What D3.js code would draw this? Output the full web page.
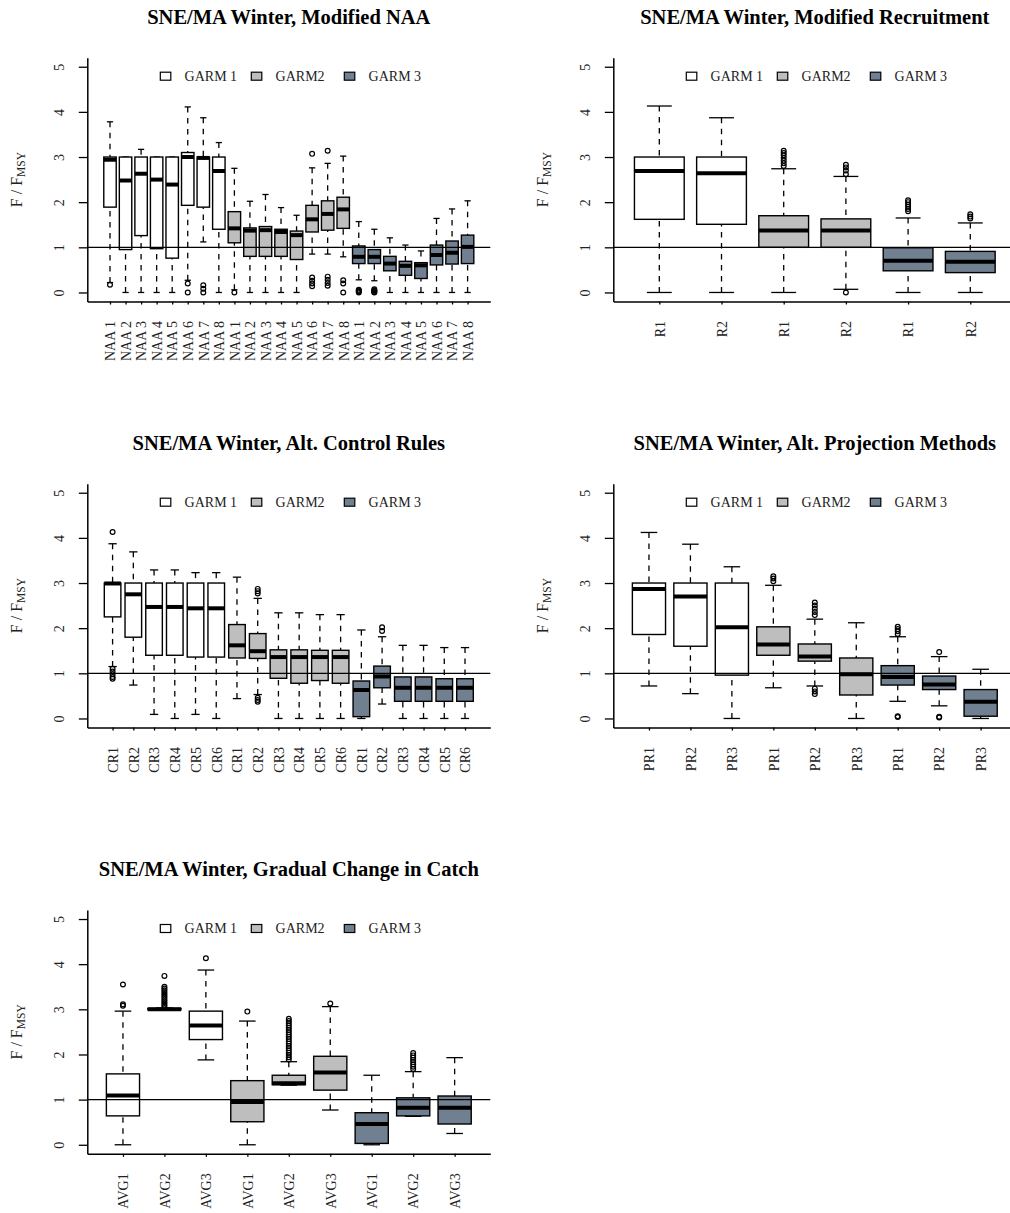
<!DOCTYPE html>
<html>
<head>
<meta charset="utf-8">
<script src="https://cdn.jsdelivr.net/npm/d3@7"></script>
<style>
body { margin: 0; background: #fff; }
text { font-family: "Liberation Serif", "Times New Roman", serif; }
</style>
</head>
<body>
<div id="holder"></div>
<script>
// groups
const garmNames = ["GARM 1", "GARM2", "GARM 3"];
const garmFill = ["#ffffff", "#bebebe", "#708090"];
const yTicks = [0, 1, 2, 3, 4, 5];

// box stats are [lower whisker, Q1, median, Q3, upper whisker]
const naaLabels = ["NAA 1", "NAA 2", "NAA 3", "NAA 4", "NAA 5", "NAA 6", "NAA 7", "NAA 8"];
const naaStats = [
    [0.22, 1.89, 2.94, 3.0, 3.78], [0, 0.95, 2.48, 3.0, 3.0], [0, 1.26, 2.63, 3.0, 3.17], [0, 0.97, 2.50, 3.0, 3.0],
    [0, 0.76, 2.39, 3.0, 3.0], [0.27, 1.93, 3.0, 3.10, 4.11], [1.12, 1.89, 2.98, 3.0, 3.87], [0, 1.40, 2.69, 3.0, 3.32],
    [0.06, 1.10, 1.42, 1.79, 2.75], [0, 0.80, 1.37, 1.43, 2.02], [0, 0.80, 1.38, 1.46, 2.17], [0, 0.80, 1.34, 1.40, 1.88],
    [0, 0.73, 1.27, 1.36, 1.71], [0.85, 1.34, 1.62, 1.93, 2.76], [0.85, 1.38, 1.74, 2.03, 2.86], [0.79, 1.42, 1.84, 2.11, 3.02],
    [0.28, 0.64, 0.79, 1.03, 1.57], [0.26, 0.64, 0.79, 0.95, 1.40], [0, 0.48, 0.64, 0.80, 1.21], [0, 0.38, 0.59, 0.69, 1.05],
    [0, 0.31, 0.60, 0.66, 0.92], [0, 0.61, 0.83, 1.05, 1.64], [0, 0.63, 0.88, 1.14, 1.85], [0, 0.64, 1.01, 1.27, 2.03]
];
const naaOut = [
    [0.17], [], [], [], [], [0.2, 0.0], [0.16, 0.08, 0.0], [],
    [0.0], [], [], [], [], [3.07, 0.33, 0.26, 0.2, 0.14], [3.14, 0.35, 0.28, 0.21, 0.15], [0.27, 0.2, 0.0],
    [0.06, 0.04, 0.02, 0.0], [0.07, 0.05, 0.03, 0.01, 0.0], [], [], [], [], [], []
];

const recLabels = ["R1", "R2"];
const recStats = [
    [0, 1.62, 2.69, 3.0, 4.13], [0, 1.51, 2.64, 3.0, 3.87],
    [0, 1.0, 1.37, 1.70, 2.74], [0.07, 1.0, 1.37, 1.63, 2.57],
    [0, 0.48, 0.70, 0.99, 1.65], [0, 0.44, 0.68, 0.91, 1.54]
];
const recOut = [
    [], [],
    [3.14, 3.09, 3.04, 2.98, 2.92, 2.86, 2.80], [2.83, 2.77, 2.70, 2.62, 0.0],
    [2.04, 2.0, 1.95, 1.9, 1.85, 1.8], [1.73, 1.68, 1.64]
];

const crLabels = ["CR1", "CR2", "CR3", "CR4", "CR5", "CR6"];
const crStats = [
    [1.15, 2.25, 2.99, 3.0, 3.87], [0.74, 1.80, 2.75, 3.0, 3.69], [0.09, 1.40, 2.47, 3.0, 3.29],
    [0, 1.40, 2.47, 3.0, 3.29], [0.09, 1.36, 2.44, 3.0, 3.23], [0, 1.36, 2.44, 3.0, 3.23],
    [0.44, 1.34, 1.62, 2.08, 3.13], [0.53, 1.33, 1.49, 1.88, 2.66], [0, 0.89, 1.36, 1.52, 2.34],
    [0, 0.78, 1.36, 1.52, 2.34], [0, 0.84, 1.36, 1.51, 2.30], [0, 0.78, 1.36, 1.51, 2.30],
    [0, 0.04, 0.63, 0.83, 1.96], [0.32, 0.68, 0.93, 1.16, 1.81], [0, 0.38, 0.68, 0.92, 1.62],
    [0, 0.38, 0.68, 0.92, 1.62], [0, 0.38, 0.68, 0.88, 1.57], [0, 0.38, 0.68, 0.88, 1.57]
];
const crOut = [
    [4.13, 1.1, 1.04, 0.98, 0.92, 0.88], [], [], [], [], [],
    [], [2.87, 2.82, 2.77, 0.46, 0.41, 0.37], [], [], [], [],
    [], [2.02, 1.94], [], [], [], []
];

const prLabels = ["PR1", "PR2", "PR3"];
const prStats = [
    [0.72, 1.86, 2.87, 3.0, 4.12], [0.55, 1.60, 2.70, 3.0, 3.86], [0, 0.96, 2.02, 3.0, 3.36],
    [0.68, 1.40, 1.64, 2.03, 2.95], [0.72, 1.27, 1.37, 1.65, 2.20], [0, 0.52, 0.98, 1.34, 2.12],
    [0.38, 0.74, 0.92, 1.17, 1.81], [0.28, 0.64, 0.75, 0.94, 1.37], [0, 0.05, 0.37, 0.64, 1.09]
];
const prOut = [
    [], [], [],
    [3.15, 3.1, 3.04], [2.57, 2.5, 2.43, 2.36, 2.29, 0.66, 0.6, 0.54], [],
    [2.03, 1.98, 1.93, 1.87, 0.05, 0.03], [1.47, 0.04, 0.02], []
];

const avgLabels = ["AVG1", "AVG2", "AVG3"];
const avgStats = [
    [0, 0.64, 1.09, 1.57, 2.96], [2.98, 2.99, 3.0, 3.02, 3.03], [1.88, 2.33, 2.64, 2.96, 3.87],
    [0, 0.51, 0.95, 1.42, 2.74], [1.32, 1.33, 1.36, 1.54, 1.84], [0.77, 1.21, 1.60, 1.96, 3.06],
    [0, 0.03, 0.46, 0.71, 1.54], [0.63, 0.64, 0.82, 1.04, 1.62], [0.25, 0.46, 0.82, 1.08, 1.93]
];
const avgOut = [
    [3.55, 3.11, 3.08], [3.74, 3.5, 3.46, 3.42, 3.38, 3.34, 3.3, 3.26, 3.22, 3.18, 3.14, 3.1, 3.06], [4.13],
    [2.95], [2.79, 2.74, 2.69, 2.64, 2.59, 2.54, 2.49, 2.44, 2.39, 2.34, 2.29, 2.24, 2.19, 2.14, 2.09, 2.04, 1.99, 1.94, 1.89], [3.13],
    [], [2.03, 1.98, 1.93, 1.88, 1.83, 1.78, 1.73, 1.68], []
];

const panels = [
    {title: "SNE/MA Winter, Modified NAA", labels: naaLabels, stats: naaStats, out: naaOut, col: 0, row: 0},
    {title: "SNE/MA Winter, Modified Recruitment", labels: recLabels, stats: recStats, out: recOut, col: 1, row: 0},
    {title: "SNE/MA Winter, Alt. Control Rules", labels: crLabels, stats: crStats, out: crOut, col: 0, row: 1},
    {title: "SNE/MA Winter, Alt. Projection Methods", labels: prLabels, stats: prStats, out: prOut, col: 1, row: 1},
    {title: "SNE/MA Winter, Gradual Change in Catch", labels: avgLabels, stats: avgStats, out: avgOut, col: 0, row: 2}
];

const w = 1010;
const h = 1213;
const plotW = 403;
const plotH = 243.8;
const colLeft = [87.3, 613.3];
const rowTop = [57.7, 483.7, 910];
const legOff = [73, 164, 257];

let svg = d3.select("#holder")
    .append("svg")
    .attr("width", w)
    .attr("height", h);

function drawPanel(p) {
    const n = p.stats.length;
    const perGroup = n / 3;
    const left = colLeft[p.col];
    const top = rowTop[p.row];
    const bottom = top + plotH;
    // R style: xlim 0.5..n+0.5, ylim 0..5, each widened 4%
    const pad = 0.5 + 0.04 * n;
    const xScale = d3.scaleLinear().domain([1 - pad, n + pad]).range([left, left + plotW]);
    const yScale = d3.scaleLinear().domain([-0.2, 5.2]).range([bottom, top]);
    const half = xScale(1.4) - xScale(1);
    const stap = half / 2;
    const labels = garmNames.flatMap(() => p.labels);

    const g = svg.append("g");

    p.stats.forEach((s, i) => {
        const cx = xScale(i + 1);
        const fill = garmFill[Math.floor(i / perGroup)];
        const lo = s[0], q1 = s[1], med = s[2], q3 = s[3], hi = s[4];
        const bg = g.append("g");

        //whiskers
        [[hi, q3], [lo, q1]].forEach(wk => {
            if (wk[0] != wk[1]) {
                bg.append("line")
                    .attr("x1", cx).attr("x2", cx)
                    .attr("y1", yScale(wk[0])).attr("y2", yScale(wk[1]))
                    .attr("stroke", "#000")
                    .attr("stroke-width", 1.3)
                    .attr("stroke-dasharray", "5.5,5.5");
            }
            bg.append("line")
                .attr("x1", cx - stap).attr("x2", cx + stap)
                .attr("y1", yScale(wk[0])).attr("y2", yScale(wk[0]))
                .attr("stroke", "#000")
                .attr("stroke-width", 1.3);
        });

        //box
        bg.append("rect")
            .attr("x", cx - half)
            .attr("y", yScale(q3))
            .attr("width", 2 * half)
            .attr("height", yScale(q1) - yScale(q3))
            .attr("fill", fill)
            .attr("stroke", "#000")
            .attr("stroke-width", 1.4);

        //median
        bg.append("line")
            .attr("x1", cx - half).attr("x2", cx + half)
            .attr("y1", yScale(med)).attr("y2", yScale(med))
            .attr("stroke", "#000")
            .attr("stroke-width", 4);

        //outliers
        bg.selectAll("circle")
            .data(p.out[i])
            .enter()
            .append("circle")
            .attr("cx", cx)
            .attr("cy", d => yScale(d))
            .attr("r", 2.4)
            .attr("fill", "none")
            .attr("stroke", "#000")
            .attr("stroke-width", 1.2);
    });

    // abline at 1
    g.append("line")
        .attr("x1", left).attr("x2", left + plotW)
        .attr("y1", yScale(1)).attr("y2", yScale(1))
        .attr("stroke", "#000")
        .attr("stroke-width", 1.3);

    //Axes
    const yAxis = d3.axisLeft(yScale)
        .tickValues(yTicks)
        .tickFormat(d3.format("d"))
        .tickSize(8.5)
        .tickSizeOuter(0);
    const ya = g.append("g")
        .attr("transform", "translate(" + left + ",0)")
        .call(yAxis)
        .attr("font-size", 14)
        .attr("font-family", null);
    ya.select(".domain").attr("stroke-width", 1.5);
    ya.selectAll(".tick line").attr("stroke-width", 1.3);
    ya.selectAll(".tick text")
        .attr("x", null)
        .attr("dy", null)
        .attr("fill", "#222")
        .attr("text-anchor", "middle")
        .attr("transform", "translate(-23,0) rotate(-90)");

    const xAxis = d3.axisBottom(xScale)
        .tickValues(d3.range(1, n + 1))
        .tickSize(3)
        .tickSizeOuter(0)
        .tickFormat(i => labels[i - 1]);
    const xa = g.append("g")
        .attr("transform", "translate(0," + bottom + ")")
        .call(xAxis)
        .attr("font-size", 14)
        .attr("font-family", null);
    xa.select(".domain").attr("stroke-width", 1.5);
    xa.selectAll(".tick line").attr("stroke-width", 1.3);
    xa.selectAll(".tick text")
        .attr("y", null)
        .attr("dy", null)
        .attr("fill", "#222")
        .attr("text-anchor", "end")
        .attr("transform", "translate(4.8,19.5) rotate(-90)");

    //Legend
    garmNames.forEach((name, k) => {
        g.append("rect")
            .attr("x", left + legOff[k])
            .attr("y", top + 14.5)
            .attr("width", 10.5)
            .attr("height", 8)
            .attr("fill", garmFill[k])
            .attr("stroke", "#000")
            .attr("stroke-width", 1.2);
        g.append("text")
            .attr("x", left + legOff[k] + 24.3)
            .attr("y", top + 23.3)
            .attr("font-size", 14)
            .attr("fill", "#222")
            .text(name);
    });

    //Title
    g.append("text")
        .attr("x", left + plotW / 2)
        .attr("y", top - 33.7)
        .attr("text-anchor", "middle")
        .attr("font-size", 20.5)
        .attr("font-weight", "bold")
        .text(p.title);

    //Y Label
    const yl = g.append("text")
        .attr("transform", "translate(" + (left - 65.5) + "," + (top + plotH / 2) + ") rotate(-90)")
        .attr("text-anchor", "middle")
        .attr("font-size", 16)
        .attr("fill", "#222");
    yl.append("tspan").text("F / F");
    yl.append("tspan").attr("font-size", 11.5).attr("dy", 3).text("MSY");
}

panels.forEach(p => drawPanel(p));
</script>
</body>
</html>
